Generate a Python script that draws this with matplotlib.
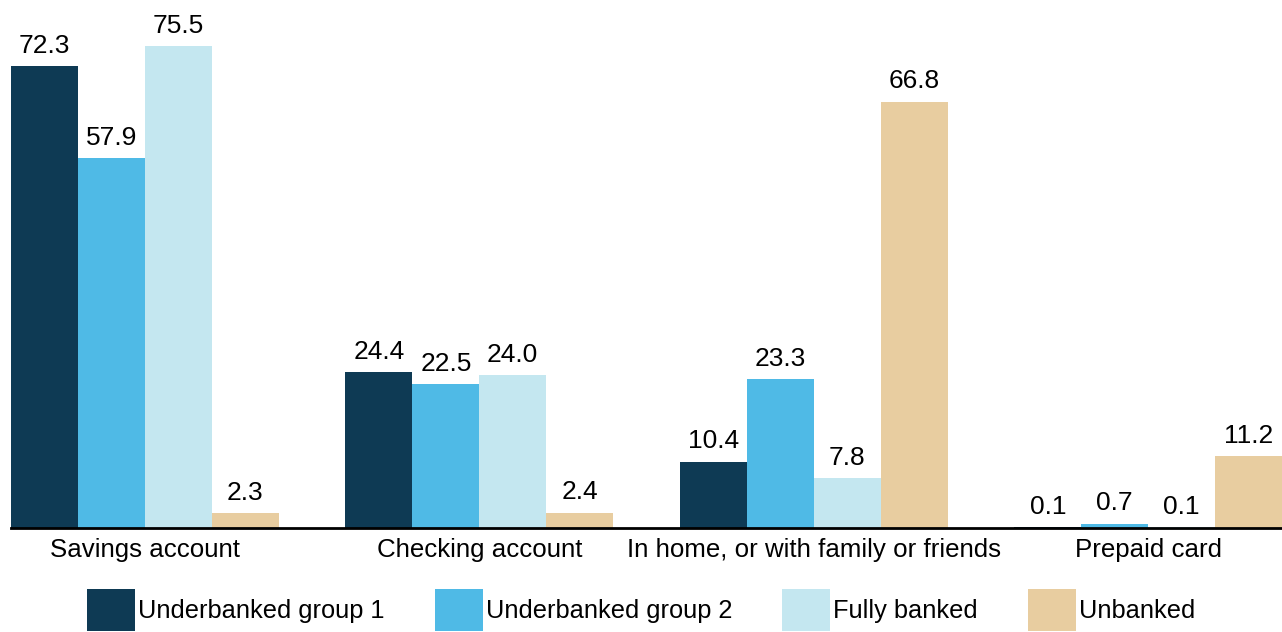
import numpy as np
import matplotlib
matplotlib.use("Agg")
import matplotlib.pyplot as plt

plt.rcParams['font.family'] = ['Liberation Sans', 'DejaVu Sans']

categories = ["Savings account", "Checking account",
              "In home, or with family or friends", "Prepaid card"]
series_names = ["Underbanked group 1", "Underbanked group 2",
                "Fully banked", "Unbanked"]
underbanked_1 = [72.3, 24.4, 10.4, 0.1]
underbanked_2 = [57.9, 22.5, 23.3, 0.7]
fully_banked = [75.5, 24.0, 7.8, 0.1]
unbanked = [2.3, 2.4, 66.8, 11.2]

colors = ["#0e3a54", "#4fbae6", "#c4e7f0", "#e8cda0"]

W, H = 1282, 632
fig = plt.figure(figsize=(W / 100, H / 100), dpi=100)
# axes spans from the bars' left edge to the right edge, baseline at y=528px
ax = fig.add_axes([11 / W, 1 - 528 / H, 1 - 11 / W, 528 / H])

x = np.arange(len(categories))
width = 0.2
offsets = [-1.5 * width, -0.5 * width, 0.5 * width, 1.5 * width]
all_series = [underbanked_1, underbanked_2, fully_banked, unbanked]

for vals, off, col, name in zip(all_series, offsets, colors, series_names):
    bars = ax.bar(x + off, vals, width, color=col, label=name)
    for b, v in zip(bars, vals):
        ax.annotate(f"{v:.1f}", (b.get_x() + b.get_width() / 2, v),
                    xytext=(0, 9.5), textcoords="offset points",
                    ha="center", va="baseline", fontsize=19)

ax.set_xlim(-0.4, 3.4)
ax.set_ylim(0, 82.7)
ax.set_yticks([])
ax.set_xticks(x)
ax.set_xticklabels(categories, fontsize=18.6)
ax.tick_params(axis="x", length=0, pad=7.5)
for s in ["top", "right", "left"]:
    ax.spines[s].set_visible(False)
ax.spines["bottom"].set_linewidth(2)
ax.spines["bottom"].set_color("black")

fig.legend(loc="center", bbox_to_anchor=(0.5, 1 - 610 / H), ncol=4,
           frameon=False, fontsize=18.3, handlelength=1.89, handleheight=2.22,
           handletextpad=0.12, columnspacing=1.97, borderpad=0, borderaxespad=0)

fig.savefig("out.png", dpi=100)
